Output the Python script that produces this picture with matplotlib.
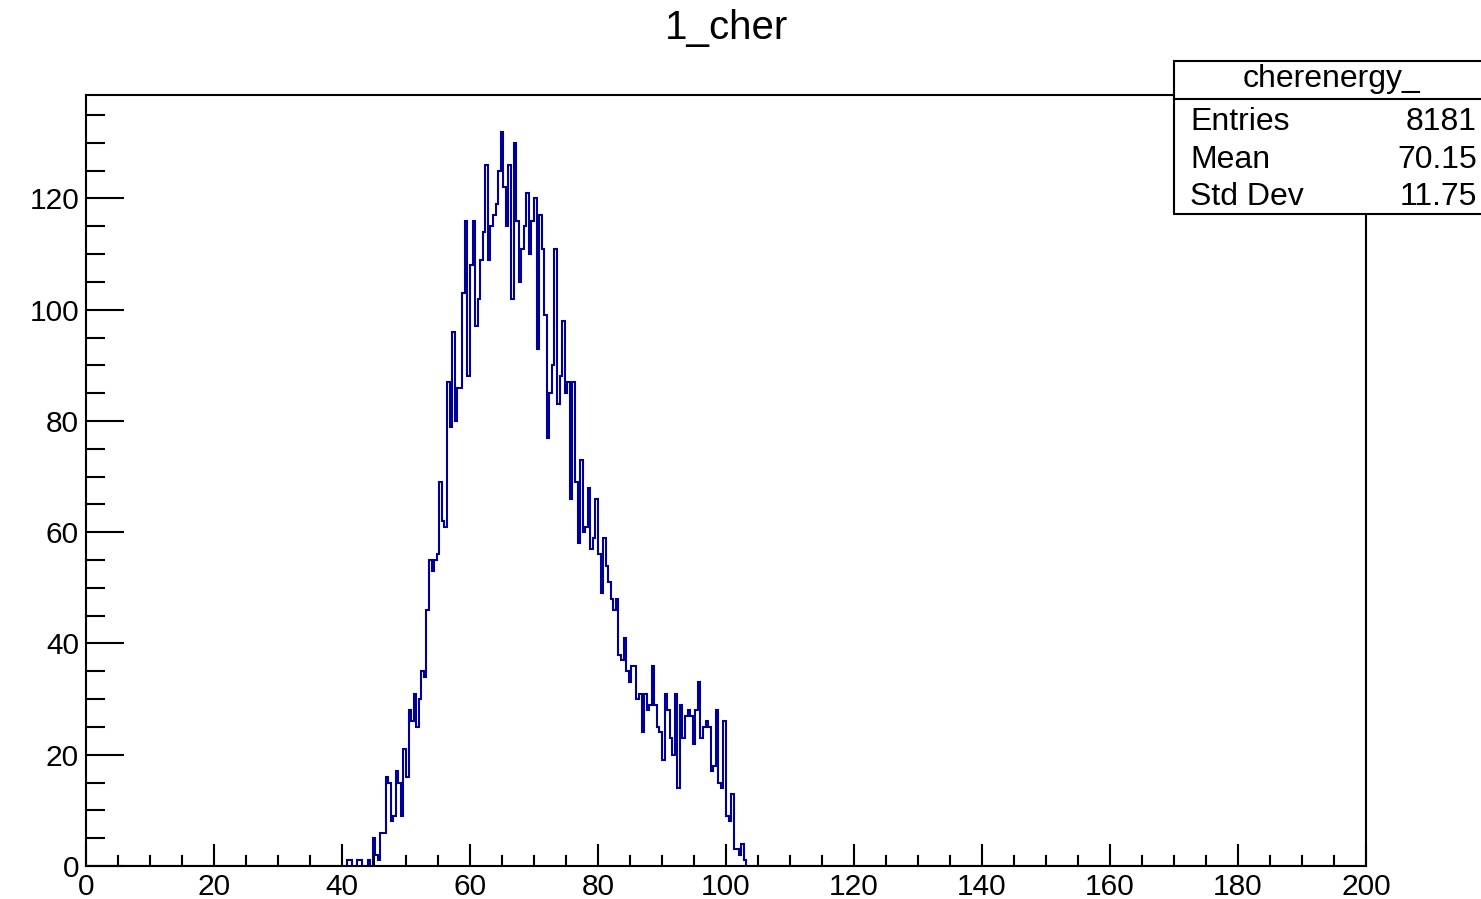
import numpy as np
import matplotlib
matplotlib.use("Agg")
import matplotlib.pyplot as plt
from matplotlib.patches import Rectangle
from matplotlib.lines import Line2D
from matplotlib.ticker import MultipleLocator

plt.rcParams['font.family'] = ['Liberation Sans', 'DejaVu Sans']

# binning of the histogram: 500 bins on [0, 200]
n_bins = 500
x_min, x_max = 0.0, 200.0

# contents of the filled bins, starting at bin index first_bin (x = 40.8)
first_bin = 102
bin_counts = [
    1, 1, 0, 0, 1, 1, 0, 0, 1, 0, 5, 2, 1, 6, 6, 16, 15, 8, 9, 17,
    15, 9, 21, 16, 28, 26, 31, 25, 30, 35, 34, 46, 55, 53, 55, 56, 69, 62, 61, 87,
    79, 96, 80, 86, 86, 103, 116, 88, 108, 116, 97, 102, 109, 114, 126, 109, 115, 117, 119, 125,
    132, 122, 115, 126, 102, 130, 116, 105, 111, 115, 121, 110, 116, 120, 93, 117, 111, 99, 77, 85,
    90, 111, 83, 88, 98, 85, 87, 66, 87, 69, 58, 73, 60, 61, 68, 57, 59, 66, 56, 49,
    59, 54, 51, 48, 46, 48, 38, 37, 41, 35, 33, 36, 36, 30, 31, 24, 31, 28, 29, 36,
    29, 25, 24, 19, 31, 28, 23, 20, 31, 14, 29, 23, 27, 28, 27, 22, 28, 33, 23, 25,
    26, 25, 17, 18, 28, 15, 14, 26, 9, 8, 13, 3, 3, 2, 4, 1,
]

title = "1_cher"
hist_name = "cherenergy_"
stat_labels = ["Entries", "Mean", "Std Dev"]
stat_values = ["8181", "70.15", "11.75"]

x_ticks = np.arange(0, 201, 20)
y_ticks = np.arange(0, 121, 20)
y_max = 138.6

edges = np.linspace(x_min, x_max, n_bins + 1)
counts = np.zeros(n_bins)
counts[first_bin:first_bin + len(bin_counts)] = bin_counts

W, H = 1481, 899
fig = plt.figure(figsize=(W / 100, H / 100), dpi=100)
ax = fig.add_axes([86 / W, 1 - 866 / H, 1280 / W, 771 / H])

ax.stairs(counts, edges, color='#000099', linewidth=1.5)

ax.set_xlim(x_min, x_max)
ax.set_ylim(0, y_max)
ax.set_xticks(x_ticks)
ax.set_yticks(y_ticks)
ax.xaxis.set_minor_locator(MultipleLocator(5))
ax.yaxis.set_minor_locator(MultipleLocator(5))

for s in ax.spines.values():
    s.set_linewidth(1.5)
    s.set_color('black')

ax.tick_params(axis='x', which='major', direction='in', length=16, width=1.5,
               labelsize=21.5, pad=5)
ax.tick_params(axis='x', which='minor', direction='in', length=8, width=1.5)
ax.tick_params(axis='y', which='major', direction='in', length=27.5, width=1.5,
               labelsize=21.5, pad=5)
ax.tick_params(axis='y', which='minor', direction='in', length=13.5, width=1.5)

fig.text(726 / W, 1 - 28 / H, title, ha='center', va='center', fontsize=29)

# stats box in the upper right corner
box = Rectangle((1174 / W, 1 - 214 / H), 320 / W, 153 / H, transform=fig.transFigure,
                facecolor='white', edgecolor='black', linewidth=1.5, zorder=5)
fig.add_artist(box)
fig.add_artist(Line2D([1174 / W, 1.01], [1 - 99 / H] * 2, transform=fig.transFigure,
                      color='black', linewidth=1.5, zorder=6))
fig.text(1332 / W, 1 - 79 / H, hist_name, ha='center', va='center', fontsize=23, zorder=7)
row_y = [122, 160, 197]
for lab, val, yy in zip(stat_labels, stat_values, row_y):
    fig.text(1190 / W, 1 - yy / H, lab, ha='left', va='center', fontsize=23, zorder=7)
    fig.text(1477 / W, 1 - yy / H, val, ha='right', va='center', fontsize=23, zorder=7)

fig.savefig('out.png', dpi=100)
